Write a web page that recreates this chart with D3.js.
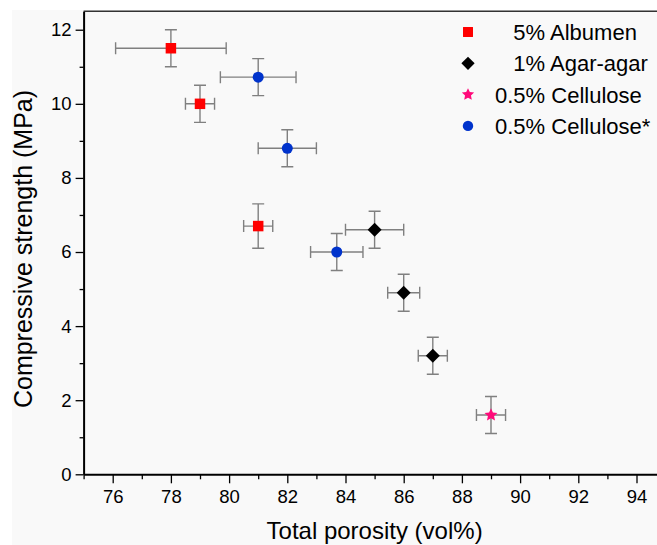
<!DOCTYPE html>
<html>
<head>
<meta charset="utf-8">
<script src="https://cdn.jsdelivr.net/npm/d3@7"></script>
<style>
  body { margin: 0; background: #fff; }
  svg { display: block; font-family: Arial, "Liberation Sans", sans-serif; }
  .legendText { white-space: pre; }
</style>
</head>
<body>
<div id="chart"></div>
<script>
// Values
var legendLabels = ["   5% Albumen", "   1% Agar-agar", "0.5% Cellulose", "0.5% Cellulose*"];

var albumenPorosity = [78, 79, 81];
var albumenStrength = [11.5, 10.0, 6.7];
var albumenPorosityErr = [1.9, 0.5, 0.5];
var albumenStrengthErr = [0.5, 0.5, 0.6];

var agarPorosity = [85, 86, 87];
var agarStrength = [6.6, 4.9, 3.2];
var agarPorosityErr = [1.0, 0.55, 0.5];
var agarStrengthErr = [0.5, 0.5, 0.5];

var cellulosePorosity = [89];
var celluloseStrength = [1.6];
var cellulosePorosityErr = [0.5];
var celluloseStrengthErr = [0.5];

var cellStarPorosity = [81, 82, 83.7];
var cellStarStrength = [10.72, 8.8, 6.0];
var cellStarPorosityErr = [1.3, 1.0, 0.9];
var cellStarStrengthErr = [0.5, 0.5, 0.5];

var xMajorTicks = [76, 78, 80, 82, 84, 86, 88, 90, 92, 94];
var xMinorTicks = [75, 77, 79, 81, 83, 85, 87, 89, 91, 93, 95];
var yMajorTicks = [0, 2, 4, 6, 8, 10, 12];
var yMinorTicks = [1, 3, 5, 7, 9, 11];

// SVG area
var svgWidth = 657;
var svgHeight = 545;

var chartMargin = { top: 11.2, left: 83.6 };
var chartWidth = 582;
var chartHeight = 463.1;

var svg = d3.select("#chart")
    .append("svg")
    .attr("width", svgWidth)
    .attr("height", svgHeight);

// light grey page behind the plot
svg.append("rect")
    .attr("x", 12)
    .attr("y", 10)
    .attr("width", svgWidth - 12)
    .attr("height", svgHeight - 10)
    .attr("fill", "#f9f9f9");

var chartGroup = svg.append("g")
    .attr("transform", `translate(${chartMargin.left}, ${chartMargin.top})`);

// Scales
var xScale = d3.scaleLinear().domain([75, 95]).range([0, chartWidth]);
var yScale = d3.scaleLinear().domain([0, 12.5]).range([chartHeight, 0]);

// Series table built from the arrays above
function makeSeries(xs, ys, xe, ye) {
    return xs.map(function (x, i) {
        return { x: x, y: ys[i], xe: xe[i], ye: ye[i] };
    });
}

var series = [
    { name: legendLabels[0], color: "#ff0000", shape: "square",
      points: makeSeries(albumenPorosity, albumenStrength, albumenPorosityErr, albumenStrengthErr) },
    { name: legendLabels[1], color: "#000000", shape: "diamond",
      points: makeSeries(agarPorosity, agarStrength, agarPorosityErr, agarStrengthErr) },
    { name: legendLabels[2], color: "#ff0a7a", shape: "star",
      points: makeSeries(cellulosePorosity, celluloseStrength, cellulosePorosityErr, celluloseStrengthErr) },
    { name: legendLabels[3], color: "#0033cc", shape: "circle",
      points: makeSeries(cellStarPorosity, cellStarStrength, cellStarPorosityErr, cellStarStrengthErr) }
];

// chunkier five point star than d3.symbolStar (size = outer radius here)
var fatStar = {
    draw: function (context, r) {
        for (var i = 0; i < 10; i++) {
            var rr = i % 2 ? r * 0.48 : r;
            var a = -Math.PI / 2 + i * Math.PI / 5;
            if (i === 0) context.moveTo(rr * Math.cos(a), rr * Math.sin(a));
            else context.lineTo(rr * Math.cos(a), rr * Math.sin(a));
        }
        context.closePath();
    }
};

function symbolPath(shape) {
    if (shape === "square") return d3.symbol(d3.symbolSquare, 110)();
    if (shape === "diamond") return d3.symbol(d3.symbolSquare, 98)();
    if (shape === "star") return d3.symbol(fatStar, 6.8)();
    return d3.symbol(d3.symbolCircle, 95)();
}
function symbolRotate(shape) {
    return shape === "diamond" ? " rotate(45)" : "";
}

// Frame (top and right edges)
chartGroup.append("path")
    .attr("d", `M0,0 H${chartWidth} V${chartHeight}`)
    .attr("fill", "none")
    .attr("stroke", "#333")
    .attr("stroke-width", 1.5);

// Axes - major
var leftAxis = d3.axisLeft(yScale).tickValues(yMajorTicks).tickSize(8).tickSizeOuter(0).tickPadding(4)
    .tickFormat(d3.format("d"));
var bottomAxis = d3.axisBottom(xScale).tickValues(xMajorTicks).tickSize(9).tickSizeOuter(0).tickPadding(7)
    .tickFormat(d3.format("d"));

// minor ticks
var leftMinor = d3.axisLeft(yScale).tickValues(yMinorTicks).tickSize(4).tickSizeOuter(0).tickFormat("");
var bottomMinor = d3.axisBottom(xScale).tickValues(xMinorTicks).tickSize(5).tickSizeOuter(0).tickFormat("");

chartGroup.append("g").call(leftAxis);
chartGroup.append("g").call(leftMinor).select(".domain").remove();
chartGroup.append("g")
    .attr("transform", `translate(0, ${chartHeight})`)
    .call(bottomAxis);
chartGroup.append("g")
    .attr("transform", `translate(0, ${chartHeight})`)
    .call(bottomMinor).select(".domain").remove();

chartGroup.selectAll(".domain").attr("stroke", "#000").attr("stroke-width", 2);
chartGroup.selectAll(".tick line").attr("stroke", "#000").attr("stroke-width", 1.3);
chartGroup.selectAll(".tick text")
    .attr("font-size", 18.5)
    .attr("font-family", "Arial, 'Liberation Sans', sans-serif")
    .attr("fill", "#000");

// Error bars
var cap = 6;
series.forEach(function (s) {
    var g = chartGroup.append("g")
        .attr("stroke", "#808080")
        .attr("stroke-width", 1.4)
        .attr("fill", "none");

    s.points.forEach(function (p) {
        var cx = xScale(p.x), cy = yScale(p.y);
        var x0 = xScale(p.x - p.xe), x1 = xScale(p.x + p.xe);
        var y0 = yScale(p.y + p.ye), y1 = yScale(p.y - p.ye);
        g.append("path")
            .attr("d", `M${x0},${cy}H${x1}` +
                `M${x0},${cy - cap}V${cy + cap}M${x1},${cy - cap}V${cy + cap}` +
                `M${cx},${y0}V${y1}` +
                `M${cx - cap},${y0}H${cx + cap}M${cx - cap},${y1}H${cx + cap}`);
    });
});

// Markers
series.forEach(function (s) {
    chartGroup.selectAll(null)
        .data(s.points)
        .enter()
        .append("path")
        .attr("d", symbolPath(s.shape))
        .attr("transform", d => `translate(${xScale(d.x)}, ${yScale(d.y)})` + symbolRotate(s.shape))
        .attr("fill", s.color);
});

// Legend
var legend = svg.append("g").attr("transform", "translate(468, 32)");
series.forEach(function (s, i) {
    var row = legend.append("g").attr("transform", `translate(0, ${i * 31.3})`);
    row.append("path")
        .attr("d", symbolPath(s.shape))
        .attr("transform", "scale(0.95)" + symbolRotate(s.shape))
        .attr("fill", s.color);
    row.append("text")
        .attr("class", "legendText")
        .attr("x", 27)
        .attr("y", 8)
        .attr("font-size", 22)
        .attr("fill", "#000")
        .text(s.name);
});

// Axis labels
svg.append("text")
    .attr("transform", "translate(32, 249) rotate(-90)")
    .attr("text-anchor", "middle")
    .attr("font-size", 25)
    .attr("fill", "#000")
    .text("Compressive strength (MPa)");

svg.append("text")
    .attr("x", chartMargin.left + chartWidth / 2)
    .attr("y", 539)
    .attr("text-anchor", "middle")
    .attr("font-size", 24)
    .attr("fill", "#000")
    .text("Total porosity (vol%)");
</script>
</body>
</html>
